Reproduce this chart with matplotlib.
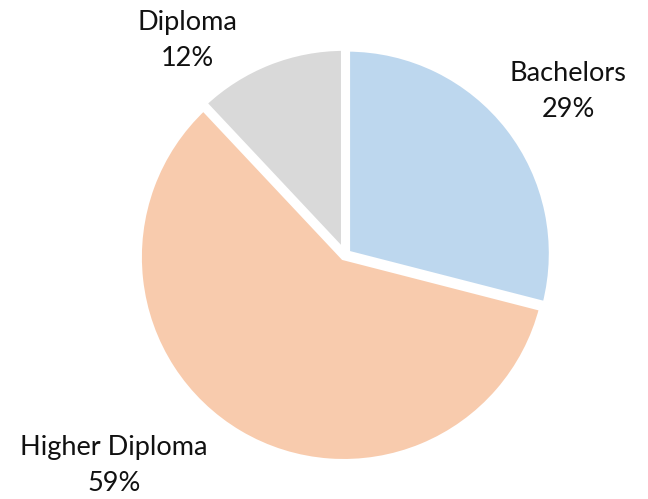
import matplotlib.pyplot as plt

categories = ["Bachelors", "Higher Diploma", "Diploma"]
values = [29, 59, 12]
colors = ["#BDD7EE", "#F8CBAD", "#D9D9D9"]
label_pos = [(1.083, 0.795), (-1.122, -1.024), (-0.766, 1.039)]

plt.rcParams['font.family'] = ['Lato', 'DejaVu Sans']

fig = plt.figure(figsize=(6.48, 4.99), dpi=100)
W, H = 648, 499
cx, cy, r = 345, 499 - 255, 206
ax = fig.add_axes([(cx - r) / W, (cy - r) / H, 2 * r / W, 2 * r / H])
ax.set_xlim(-1, 1)
ax.set_ylim(-1, 1)
ax.set_aspect('equal')
ax.axis('off')

# faint outline
ax.pie(values, startangle=90, counterclock=False, radius=1.0,
       colors=colors, explode=[0.012] * 3,
       wedgeprops=dict(edgecolor='#c8c8c8', linewidth=1.0, linestyle=(0, (4, 2))))
ax.pie(values, startangle=90, counterclock=False, radius=0.995,
       colors=colors, explode=[0.012] * 3,
       wedgeprops=dict(edgecolor='white', linewidth=4.5))
ax.set_xlim(-1, 1)
ax.set_ylim(-1, 1)

total = sum(values)
for cat, v, (x, y) in zip(categories, values, label_pos):
    ax.text(x, y, f"{cat}\n{round(100 * v / total)}%", ha='center', va='center',
            fontsize=19.5, color='#111111', linespacing=1.55, clip_on=False)

fig.savefig("out.png", dpi=100)
